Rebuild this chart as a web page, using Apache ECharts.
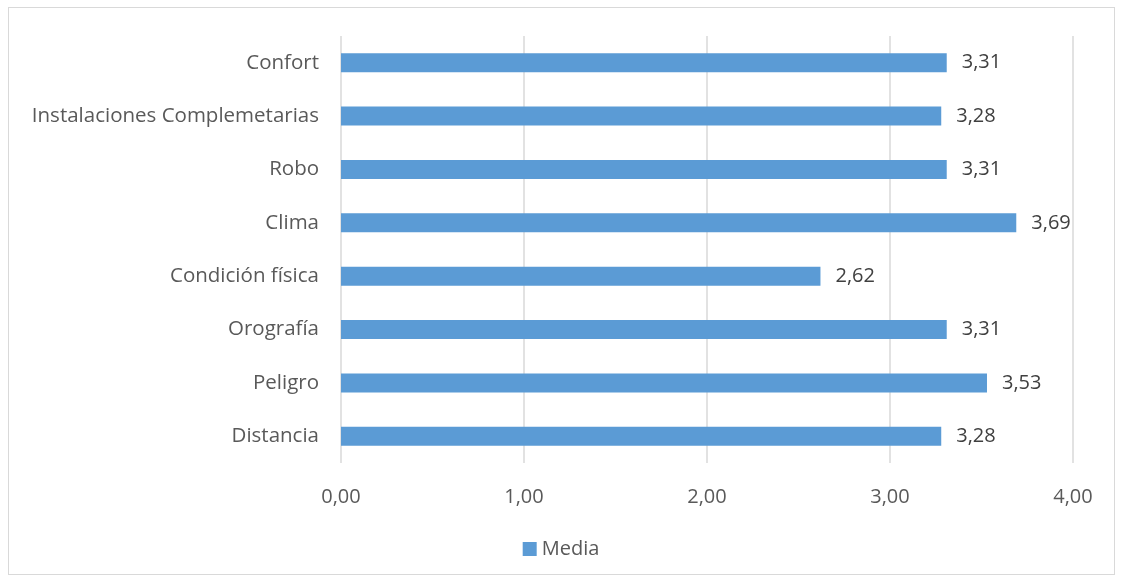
<!DOCTYPE html>
<html>
<head>
<meta charset="utf-8">
<script src="https://cdn.jsdelivr.net/npm/echarts@6/dist/echarts.min.js"></script>
<style>
  html, body { margin: 0; padding: 0; background: #fff; }
  #frame { position: absolute; left: 8px; top: 7px; width: 1107px; height: 568px; border: 1px solid #d9d9d9; box-sizing: border-box; }
  #chart { position: absolute; left: 0; top: 0; width: 1122px; height: 581px; }
</style>
</head>
<body>
<div id="frame"></div>
<div id="chart"></div>
<script>
// Categories listed bottom to top, as the category axis draws them
const categories = ['Distancia', 'Peligro', 'Orografía', 'Condición física', 'Clima', 'Robo', 'Instalaciones Complemetarias', 'Confort'];
const mediaValues = [3.28, 3.53, 3.31, 2.62, 3.69, 3.31, 3.28, 3.31];
const seriesName = 'Media';

const fontFamily = 'Open Sans, Liberation Sans, sans-serif';
const fmt = v => Number(v).toFixed(2).replace('.', ',');

const chart = echarts.init(document.getElementById('chart'), null, { renderer: 'canvas' });
chart.setOption({
  animation: false,
  textStyle: { fontFamily },
  grid: { left: 341, right: 49, top: 36, bottom: 118, containLabel: false },
  legend: {
    data: [seriesName],
    bottom: 17,
    left: 'center',
    itemWidth: 14,
    itemHeight: 14,
    itemGap: 6,
    icon: 'rect',
    textStyle: { fontSize: 20, color: '#595959', fontFamily }
  },
  xAxis: {
    type: 'value',
    min: 0,
    max: 4,
    interval: 1,
    axisLine: { show: false },
    axisTick: { show: false },
    splitLine: { lineStyle: { color: '#d9d9d9', width: 1.5 } },
    axisLabel: { formatter: fmt, fontSize: 20, color: '#595959', margin: 24, fontFamily }
  },
  yAxis: {
    type: 'category',
    data: categories,
    axisLine: { show: false },
    axisTick: { show: false },
    axisLabel: { fontSize: 20.5, color: '#595959', margin: 22, fontFamily }
  },
  series: [{
    name: seriesName,
    type: 'bar',
    data: mediaValues,
    barWidth: 19,
    itemStyle: { color: '#5b9bd5' },
    label: {
      show: true,
      position: 'right',
      distance: 15,
      formatter: p => fmt(p.value),
      fontSize: 20,
      color: '#404040',
      fontFamily
    }
  }]
});
</script>
</body>
</html>
